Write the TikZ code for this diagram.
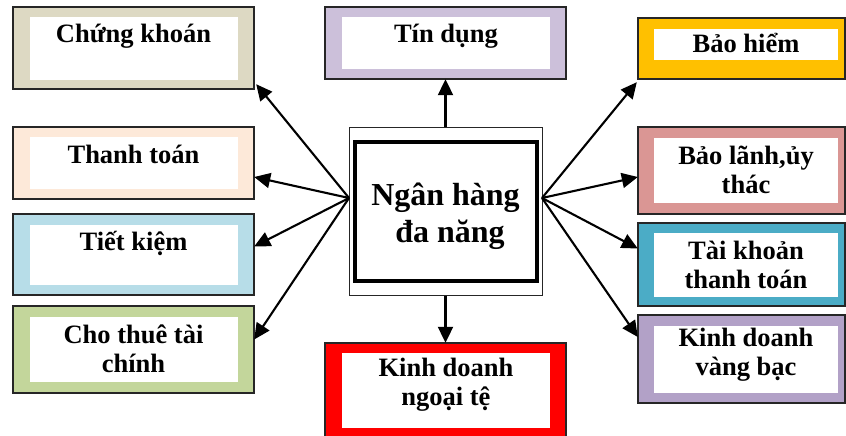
\documentclass[tikz,border=0pt]{standalone}
\usepackage{fontspec}
\setmainfont{Liberation Serif}
\usetikzlibrary{arrows.meta,calc}
\definecolor{cck}{HTML}{DDD9C3}
\definecolor{ctd}{HTML}{CCC0DA}
\definecolor{cbh}{HTML}{FFC000}
\definecolor{cbl}{HTML}{DA9694}
\definecolor{ctkh}{HTML}{4BACC6}
\definecolor{ckv}{HTML}{B2A1C7}
\definecolor{cth}{HTML}{FDE9D9}
\definecolor{ctk}{HTML}{B7DDE8}
\definecolor{cct}{HTML}{C3D69B}
\definecolor{ckn}{HTML}{FF0000}
\newcommand\framedbox[9]{%
  % #1 name, #2 colour, #3 x1, #4 y1, #5 x2, #6 y2, #7 ix1, #8 iy1, #9 (ix2,iy2)
  \path[draw=black!85, line width=1.4pt, fill=#2] (#3,#4) rectangle (#5,#6);
  \node[inner sep=0pt, minimum width={#5-#3}, minimum height={#6-#4}] (#1) at ({(#3+#5)/2},{(#4+#6)/2}) {};
  \fill[white] (#7,#8) rectangle #9;
}
\begin{document}
\begin{tikzpicture}[x=1pt,y=-1pt,
  lbl/.style={font=\fontsize{26.5}{28.5}\selectfont\bfseries, align=center, anchor=base, inner sep=0pt},
  biglbl/.style={font=\fontsize{32}{37}\selectfont\bfseries, align=center, anchor=base, inner sep=0pt},
  arr/.style={line width=2.1pt, -{Triangle[length=16pt,width=15pt]}}]
\useasboundingbox (0,0) rectangle (846,436);
\fill[white] (0,0) rectangle (846,436);
% left column
\framedbox{ck}{cck}{13}{7}{254}{89}{30}{17}{(238,80)}
\node[lbl] at (133.5,43) {Chứng khoán};
\framedbox{th}{cth}{13}{127}{254}{199}{30}{137}{(238,189)}
\node[lbl] at (133.5,163) {Thanh toán};
\framedbox{tk}{ctk}{13}{214}{254}{295}{30}{225}{(238,285)}
\node[lbl] at (133.5,250) {Tiết kiệm};
\framedbox{ct}{cct}{13}{306}{254}{393}{30}{317}{(238,382)}
\node[lbl] at (133.5,372) {Cho thuê tài\\chính};
% middle column
\framedbox{td}{ctd}{325}{7}{566}{79}{342}{17}{(550,69)}
\node[lbl] at (446,43) {Tín dụng};
\framedbox{kn}{ckn}{325}{343}{566}{438}{342}{353}{(550,428)}
\node[lbl] at (446,405) {Kinh doanh\\ngoại tệ};
% right column
\framedbox{bh}{cbh}{638}{18}{845}{79}{654}{29}{(838,60)}
\node[lbl] at (746,53) {Bảo hiểm};
\framedbox{bl}{cbl}{638}{127}{845}{214}{654}{138}{(838,203)}
\node[lbl] at (746,193) {Bảo lãnh,ủy\\thác};
\framedbox{tkh}{ctkh}{638}{223}{845}{306}{654}{233}{(838,297)}
\node[lbl] at (746,288) {Tài khoản\\thanh toán};
\framedbox{kv}{ckv}{638}{315}{845}{403}{654}{326}{(838,393)}
\node[lbl] at (746,375) {Kinh doanh\\vàng bạc};
% centre
\node[draw=black!85, line width=1pt, fill=white, minimum width=193pt, minimum height=168pt, inner sep=0pt] (ctr) at (445.5,211) {};
\draw[line width=4.5pt] (355,142) rectangle (537,281);
\node[biglbl] at (445.5,242) {Ngân hàng\\\hspace*{9pt}đa năng};
\coordinate (cl) at (349,198);
\coordinate (cr) at (542,198);
% arrows
\draw[arr] (ctr.north) -- (td.south);
\draw[arr] (ctr.south) -- (kn.north);
\draw[arr] (cl) -- ($(ck.south east)+(2,-5)$);
\draw[arr] (cl) -- ($(th.east)+(0,14)$);
\draw[arr] (cl) -- ($(tk.east)+(0,-8)$);
\draw[arr] (cl) -- ($(ct.east)+(0,-10)$);
\draw[arr] (cr) -- ($(bh.south west)+(-1,3)$);
\draw[arr] (cr) -- ($(bl.west)+(0,6.5)$);
\draw[arr] (cr) -- ($(tkh.west)+(0,-16)$);
\draw[arr] (cr) -- ($(kv.west)+(0,-22)$);
\end{tikzpicture}
\end{document}
